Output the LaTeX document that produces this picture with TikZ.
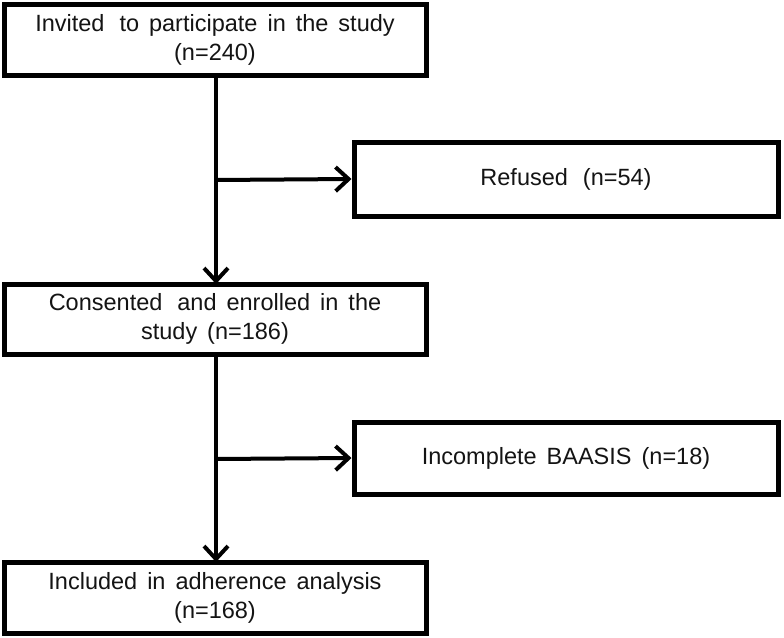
\documentclass[tikz,border=0pt]{standalone}
\usepackage{fontspec}
\setmainfont{Liberation Sans}
\usetikzlibrary{arrows.meta}
\newcommand\myboxfont{\fontsize{23.5}{29}\selectfont\spaceskip=10pt\relax}
\newcommand\wsp{\hspace{15pt}}
\begin{document}
\begin{tikzpicture}[x=1pt,y=1pt,
  box/.style={draw=black, line width=5pt, fill=white, align=center, inner sep=0pt,
    font=\myboxfont, text=black!92},
  conn/.style={line width=4pt, -{Straight Barb[length=13pt,width=24pt,line width=4pt]}}]
\useasboundingbox (0,0) rectangle (784,-637);
\node[box, minimum width=422pt, minimum height=71pt] (inv) at (215,-39.5) {Invited\wsp to participate in the study\\(n=240)};
\node[box, minimum width=424pt, minimum height=74pt] (ref) at (566,-179) {Refused\wsp(n=54)};
\node[box, minimum width=422pt, minimum height=70pt] (cons) at (215,-319) {Consented\wsp and enrolled in the\\study (n=186)};
\node[box, minimum width=424pt, minimum height=72pt] (inc) at (566,-458) {Incomplete BAASIS (n=18)};
\node[box, minimum width=422pt, minimum height=71pt] (incl) at (215,-597.5) {Included in adherence analysis\\(n=168)};
\coordinate (b1) at (216,-180);
\coordinate (b2) at (216,-459);
\draw[conn] (216,-75) -- (216,-284);
\draw[conn] (b1) -- (ref.west);
\draw[conn] (216,-354) -- (216,-562);
\draw[conn] (b2) -- (inc.west);
\end{tikzpicture}
\end{document}
